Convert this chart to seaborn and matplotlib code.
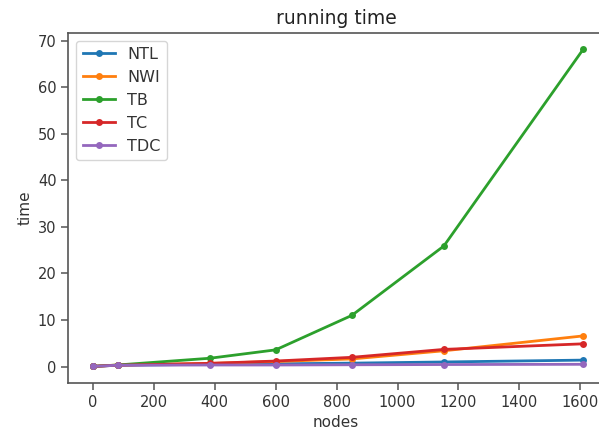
import matplotlib
matplotlib.use("Agg")
import matplotlib.pyplot as plt
import seaborn as sns
import pandas as pd

nodes = [0, 81, 384, 600, 850, 1152, 1610]
NTL = [0.05, 0.3, 0.5, 0.6, 0.75, 1.0, 1.4]
NWI = [0.05, 0.35, 0.7, 1.1, 1.65, 3.4, 6.6]
TB = [0.05, 0.35, 1.8, 3.6, 11.0, 25.9, 68.2]
TC = [0.05, 0.3, 0.7, 1.2, 2.0, 3.7, 4.9]
TDC = [0.05, 0.3, 0.35, 0.35, 0.4, 0.45, 0.5]

series = {"NTL": NTL, "NWI": NWI, "TB": TB, "TC": TC, "TDC": TDC}
colors = sns.color_palette("tab10", 5)

plt.rcParams["font.family"] = ["DejaVu Sans"]
plt.rcParams["text.color"] = "#333333"
plt.rcParams["axes.labelcolor"] = "#333333"
fig = plt.figure(figsize=(5.99, 4.32), dpi=100, facecolor="white")
ax = fig.add_axes([68.3 / 599, (432 - 382.7) / 432, (604 - 68.3) / 599, (382.7 - 32.7) / 432])

for (name, vals), c in zip(series.items(), colors):
    df = pd.DataFrame({"nodes": nodes, "time": vals})
    sns.lineplot(data=df, x="nodes", y="time", ax=ax, color=c, label=name,
                 marker="o", markersize=5, markeredgewidth=0, linewidth=2.0,
                 clip_on=False)

ax.set_xlim(-80.5, -80.5 + (604 - 68.3) / 0.3047)
ax.set_ylim(-3.45, 71.7)
ax.set_title("running time", fontsize=13.5, color="#222222")
ax.set_xlabel("nodes", fontsize=11)
ax.set_ylabel("time", fontsize=11)
ax.tick_params(labelsize=10.5, width=1.1, length=5, color="#555555", labelcolor="#333333")
ax.set_xticks([0, 200, 400, 600, 800, 1000, 1200, 1400, 1600])
ax.set_yticks([0, 10, 20, 30, 40, 50, 60, 70])
for s in ax.spines.values():
    s.set_linewidth(1.2)
    s.set_color("#555555")
ax.spines["right"].set_visible(False)
ax.legend(loc="upper left", fontsize=11.5)

fig.savefig("out.png", dpi=100, facecolor="white")
